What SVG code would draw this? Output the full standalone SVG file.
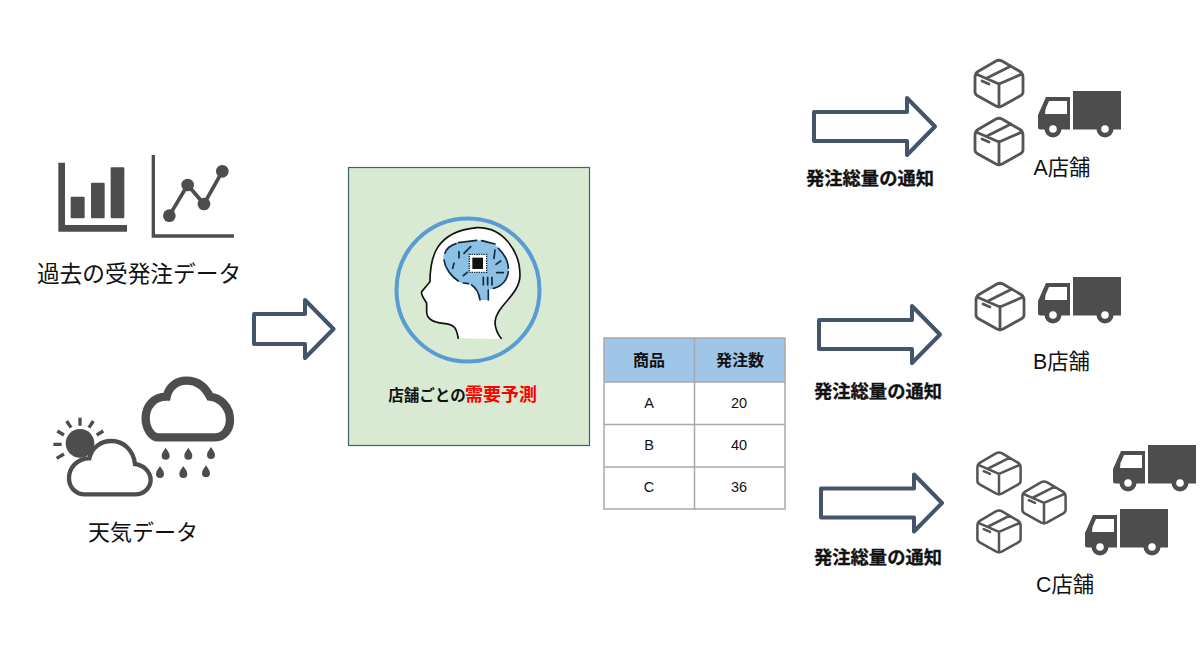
<svg xmlns="http://www.w3.org/2000/svg" xmlns:xlink="http://www.w3.org/1999/xlink" width="1200" height="669" viewBox="0 0 1200 669">
<style>
text{font-family:"Liberation Sans","Noto Sans CJK JP",sans-serif;fill:#111;text-anchor:middle;dominant-baseline:central}
.lbl{font-size:22.700px}
.store{font-size:21.300px}
.note{font-size:18.300px;font-weight:bold;stroke:#111;stroke-width:.3px}
.th{font-size:16px;font-weight:bold}
.td{font-size:14.500px}
.arrow{fill:#fff;stroke:#44546a;stroke-width:4;stroke-linejoin:round}
.dk{fill:#4d4d4d}
.box{fill:none;stroke:#555;stroke-width:2.800;stroke-linejoin:round;stroke-linecap:round}
.grid{stroke:#a9a9a9;stroke-width:1.500;fill:none}
.ch{fill:none;stroke:#14283c;stroke-width:5;stroke-linecap:round}
</style>
<defs>
<g id="box">
<path class="box" d="M-3-22Q0-23.500 3-22L21-11.500Q24-9.500 24-6V9Q24 11.500 21 13L3 23Q0 24.500-3 23L-21 13Q-24 11.500-24 9V-6Q-24-9.500-21-11.500ZM-23-9L0 1 23-9M0 1V24M-12-5L12-17"/>
<path class="box" d="M-17-2L-10 1" stroke-width="3.400"/>
</g>
<g id="truck">
<rect class="dk" x="35" y="0" width="48" height="38.500"/>
<path class="dk" d="M8 6H32V38.500H2Q0 38.500 0 36V24Z"/>
<path fill="#fff" d="M11 10H29V23H7L7.500 18Z"/>
<circle class="dk" cx="15" cy="38" r="8.500"/><circle fill="#fff" cx="15" cy="38" r="3.800"/>
<circle class="dk" cx="67" cy="38" r="8.500"/><circle fill="#fff" cx="67" cy="38" r="3.800"/>
</g>
<path id="arrowShape" class="arrow" d="M0 14H93V0L121 28.500 93 57V43H0Z"/>
<path id="drop" class="dk" d="M0-19C5-10 12-5 12 5A12 12 0 0 1-12 5C-12-5-5-10 0-19Z"/>
</defs>

<g id="connectors">
<path class="arrow" d="M254 314H305V300L333.500 329 305 358V344H254Z"/>
<use xlink:href="#arrowShape" href="#arrowShape" transform="translate(814 98)"/>
<use xlink:href="#arrowShape" href="#arrowShape" transform="translate(819 306)"/>
<use xlink:href="#arrowShape" href="#arrowShape" transform="translate(821 474.500)"/>
</g>

<g id="past-data">
<g transform="translate(30 140) scale(.3333)">
<path class="dk" d="M85 68H105V255H291V275H85Z"/>
<rect class="dk" x="122" y="170" width="42" height="65" rx="3"/>
<rect class="dk" x="183" y="128" width="41" height="107" rx="3"/>
<rect class="dk" x="242" y="82" width="41" height="153" rx="3"/>
<path class="dk" d="M365 45H375V283H612V293H365Z"/>
<path d="M418 227L473 135 522 192 577 94" fill="none" stroke="#4d4d4d" stroke-width="11"/>
<circle class="dk" cx="418" cy="227" r="19"/><circle class="dk" cx="473" cy="135" r="19"/><circle class="dk" cx="522" cy="192" r="19"/><circle class="dk" cx="577" cy="94" r="19"/>
</g>
<text class="lbl" x="139" y="274">過去の受発注データ</text>
</g>

<g id="weather-data">
<g transform="translate(40 365) scale(.3333)">
<path d="M355 217H525C555 217 570 190 570 165 570 125 540 98 510 95 495 65 470 47 440 47 405 47 385 70 380 95 340 95 317 125 317 160 317 190 335 217 355 217Z" fill="#fff" stroke="#4d4d4d" stroke-width="25"/>
<circle class="dk" cx="120" cy="235" r="43"/>
<path d="M120 158V182M80 168L93 188M160 168L147 188M52 198L72 210M190 198L170 210M40 238H65M50 280L72 267" stroke="#4d4d4d" stroke-width="10" fill="none"/>
<path d="M135 388H285C315 388 332 365 332 345 332 320 310 300 285 297 280 255 250 228 215 228 180 228 155 250 148 280 110 280 87 310 87 340 87 365 105 388 135 388Z" fill="#fff" stroke="#4d4d4d" stroke-width="13"/>
<use xlink:href="#drop" href="#drop" x="377" y="267"/><use xlink:href="#drop" href="#drop" x="445" y="267"/><use xlink:href="#drop" href="#drop" x="513" y="265"/>
<use xlink:href="#drop" href="#drop" x="360" y="322"/><use xlink:href="#drop" href="#drop" x="430" y="322"/><use xlink:href="#drop" href="#drop" x="498" y="320"/>
</g>
<text x="143" y="532" font-size="22">天気データ</text>
</g>

<g id="prediction">
<rect x="348.500" y="167.500" width="241" height="278" fill="#d9ead3" stroke="#44606e" stroke-width="1.200"/>
<circle cx="468" cy="290" r="71.500" fill="none" stroke="#5b9bd5" stroke-width="4"/>
<g transform="translate(380 225) scale(.3333)">
<path fill="#fff" d="M235 340C230 310 225 298 190 295 160 292 140 280 140 260V235C135 225 122 210 125 200L150 170C150 100 165 20 290 8 370 5 420 80 420 150 420 210 350 240 345 290 345 310 355 330 365 342Z"/>
<path fill="none" stroke="#111" stroke-width="5" d="M235 342C230 310 225 298 190 295 160 292 140 280 140 260V235C135 225 122 210 125 200L150 170C150 100 165 20 290 8 370 5 420 80 420 150 420 210 350 240 345 290 345 310 355 330 365 342"/>
<path fill="#8cc1e6" d="M190 95C195 70 225 50 250 52L310 45C345 50 385 85 385 130 385 165 360 190 325 195V225H300C295 195 285 178 250 175 225 170 190 140 190 95Z"/>
<path class="ch" d="M195 85C200 70 215 60 228 56M235 53L290 46M305 47L345 57M355 70C370 85 385 105 385 130M385 140C382 165 365 185 340 190M325 195V225M300 225C297 205 290 190 275 180M265 176L250 174M235 168C215 155 195 130 192 105"/>
<path class="ch" d="M237 80V98M252 85L272 65M222 115L218 130M345 75L342 100M348 118L362 108M350 143H370M250 152L262 142M310 157V180M323 157V180M336 157V180"/>
<rect x="268" y="88" width="52" height="54" fill="#fff" stroke="#14283c" stroke-width="4" stroke-dasharray="4 3"/>
<rect x="277" y="98" width="32" height="34" fill="#111"/>
</g>
<text x="427" y="395" font-size="15.500" font-weight="bold">店舗ごとの</text>
<text x="501" y="395" font-size="18" font-weight="bold" style="fill:#f00">需要予測</text>
</g>

<g id="order-table">
<rect x="604" y="338" width="181" height="44" fill="#9fc5e8"/>
<rect x="604" y="382" width="181" height="127" fill="#fff"/>
<path class="grid" d="M604 338H785V509H604ZM694.500 338V509M604 382H785M604 424.500H785M604 467H785"/>
<text class="th" x="649" y="360">商品</text>
<text class="th" x="740" y="360">発注数</text>
<text class="td" x="649" y="403">A</text><text class="td" x="739" y="403">20</text>
<text class="td" x="649" y="445">B</text><text class="td" x="739" y="445">40</text>
<text class="td" x="649" y="487">C</text><text class="td" x="739" y="487">36</text>
</g>

<g id="notify-a"><text class="note" x="870" y="178">発注総量の通知</text></g>
<g id="notify-b"><text class="note" x="878" y="391">発注総量の通知</text></g>
<g id="notify-c"><text class="note" x="878" y="557">発注総量の通知</text></g>

<g id="store-a">
<use xlink:href="#box" href="#box" transform="translate(999 83)"/>
<use xlink:href="#box" href="#box" transform="translate(999 141)"/>
<use xlink:href="#truck" href="#truck" transform="translate(1038 91)"/>
<text class="store" x="1062" y="167.500">A店舗</text>
</g>
<g id="store-b">
<use xlink:href="#box" href="#box" transform="translate(1000 306)"/>
<use xlink:href="#truck" href="#truck" transform="translate(1038 277)"/>
<text class="store" x="1061.500" y="361.500">B店舗</text>
</g>
<g id="store-c">
<use xlink:href="#box" href="#box" transform="translate(999 473) scale(.9)"/>
<use xlink:href="#box" href="#box" transform="translate(1044 502) scale(.9)"/>
<use xlink:href="#box" href="#box" transform="translate(999 531) scale(.9)"/>
<use xlink:href="#truck" href="#truck" transform="translate(1113 445)"/>
<use xlink:href="#truck" href="#truck" transform="translate(1085 509)"/>
<text class="store" x="1065" y="584.500">C店舗</text>
</g>
</svg>
